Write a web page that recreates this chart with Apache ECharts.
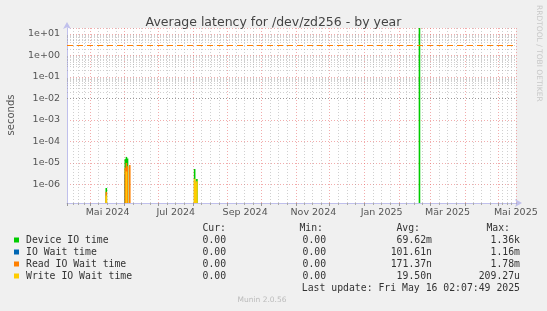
<!DOCTYPE html>
<html><head><meta charset="utf-8">
<script src="https://cdn.jsdelivr.net/npm/echarts@6/dist/echarts.min.js"></script>
<style>html,body{margin:0;padding:0;background:#f0f0f0;}#c{width:547px;height:311px;}</style>
</head><body><div id="c"></div>
<script>
// ---- data ----
const chartTitle = 'Average latency for /dev/zd256 - by year';
const yAxisName = 'seconds';
const monthNames = ['Jan','Feb','Mär','Apr','Mai','Jun','Jul','Aug','Sep','Okt','Nov','Dez'];
const timeStart = '2024-04-11T02:07:49Z';
const timeEnd = '2025-05-16T02:07:49Z';
const yMin = 1.36e-7;
const yMax = 19;
const hruleValue = 3;

const seriesNames = ['Device IO time', 'IO Wait time', 'Read IO Wait time', 'Write IO Wait time'];
const seriesColors = ['#00CC00', '#0066B3', '#FF8000', '#FFCC00'];

const deviceIO = [
  ['2024-05-15', 6.8e-7],
  ['2024-06-01', 1.5e-5],
  ['2024-06-02', 1.9e-5],
  ['2024-06-03', 1.6e-5],
  ['2024-08-02', 5.2e-6],
  ['2024-08-04', 1.8e-6],
  ['2025-02-19', 1360]
];
const ioWait = [
  ['2024-06-01', 3e-6],
  ['2024-06-02', 4e-6]
];
const readIOWait = [
  ['2024-05-15', 4.5e-7],
  ['2024-06-01', 6e-6],
  ['2024-06-02', 1e-5],
  ['2024-06-03', 7e-6],
  ['2024-06-05', 8e-6],
  ['2024-08-02', 1.5e-6]
];
const writeIOWait = [
  ['2024-05-15', 3e-7],
  ['2024-06-02', 4e-6],
  ['2024-08-02', 1.8e-6],
  ['2024-08-03', 1.2e-6],
  ['2024-08-04', 1.4e-6]
];

const curValues = ['0.00 ', '0.00 ', '0.00 ', '0.00 '];
const minValues = ['0.00 ', '0.00 ', '0.00 ', '0.00 '];
const avgValues = ['69.62m', '101.61n', '171.37n', '19.50n'];
const maxValues = ['1.36k', '1.16m', '1.78m', '209.27u'];
const legendHeaders = ['Cur:', 'Min:', 'Avg:', 'Max:'];
const lastUpdate = 'Last update: Fri May 16 02:07:49 2025';
const footerText = 'Munin 2.0.56';
const watermarkText = 'RRDTOOL / TOBI OETIKER';

// ---- build ----
const toTime = d => Date.parse(d + 'T12:00:00Z');
const allSeries = [deviceIO, ioWait, readIOWait, writeIOWait];

const minorY = [];
for (let e = -7; e <= 1; e++) {
  for (let m = 2; m <= 9; m++) {
    const v = m * Math.pow(10, e);
    if (v > yMin && v < yMax) minorY.push({ yAxis: v });
  }
}

const gridLeft = 67, gridTop = 28, gridW = 449, gridH = 175;
const monoFont = '"DejaVu Sans Mono", monospace';
const sansFont = '"DejaVu Sans", sans-serif';
const legendFont = '9.8px ' + monoFont;

const series = allSeries.map((arr, i) => ({
  name: seriesNames[i],
  type: 'bar',
  barWidth: 1.6,
  barGap: '-100%',
  itemStyle: { color: seriesColors[i] },
  data: arr.map(p => [toTime(p[0]), p[1]]),
  z: 3,
  animation: false
}));
series[0].markLine = {
  silent: true, symbol: 'none', z: 1, animation: false,
  label: { show: false },
  lineStyle: { color: 'rgba(150,150,150,0.45)', type: [1, 2], width: 1 },
  data: minorY
};
series[2].markLine = {
  silent: true, symbol: 'none', animation: false,
  label: { show: false },
  lineStyle: { color: '#FF8000', type: [6, 4], width: 1 },
  data: [{ yAxis: hruleValue }]
};

const x0 = 26;
const legendRowsY = [240, 252, 264, 276];
const valueEnds = [232, 332, 432, 520];
const headerEnds = [226, 323, 420, 510];
const graphics = [];
legendHeaders.forEach((h, j) => {
  graphics.push({ type: 'text', x: headerEnds[j], y: 228, style: { text: h, font: legendFont, fill: '#333', textAlign: 'right', textVerticalAlign: 'middle' } });
});
seriesNames.forEach((n, i) => {
  const y = legendRowsY[i];
  graphics.push({ type: 'rect', shape: { x: 14, y: y - 2.5, width: 5, height: 5 }, style: { fill: seriesColors[i] } });
  graphics.push({ type: 'text', x: x0, y: y, style: { text: n, font: legendFont, fill: '#333', textVerticalAlign: 'middle' } });
  [curValues[i], minValues[i], avgValues[i], maxValues[i]].forEach((v, j) => {
    graphics.push({ type: 'text', x: valueEnds[j], y: y, style: { text: v, font: legendFont, fill: '#333', textAlign: 'right', textVerticalAlign: 'middle' } });
  });
});
graphics.push({ type: 'text', x: 520, y: 288, style: { text: lastUpdate, font: legendFont, fill: '#333', textAlign: 'right', textVerticalAlign: 'middle' } });
graphics.push({ type: 'text', x: 262, y: 300, style: { text: footerText, font: '7.5px ' + sansFont, fill: '#bbb', textAlign: 'center', textVerticalAlign: 'middle' } });
graphics.push({ type: 'text', x: 539, y: 5, rotation: -Math.PI / 2, style: { text: watermarkText, font: '7.5px ' + sansFont, fill: '#c8c8c8', textAlign: 'left', textVerticalAlign: 'middle' } });
graphics.push({ type: 'text', x: 11, y: 115, rotation: Math.PI / 2, style: { text: yAxisName, font: '10px ' + sansFont, fill: '#555', textAlign: 'center', textVerticalAlign: 'middle' } });

function logLabel(v) {
  const l = Math.log10(v);
  const e = Math.round(l);
  if (Math.abs(l - e) > 1e-6) return '';
  const a = Math.abs(e);
  return '1e' + (e < 0 ? '-' : '+') + (a < 10 ? '0' : '') + a;
}

const option = {
  useUTC: true,
  animation: false,
  backgroundColor: '#f0f0f0',
  title: {
    text: chartTitle, left: 'center', top: 11,
    textStyle: { fontFamily: sansFont, fontSize: 12.5, fontWeight: 'normal', color: '#444' }
  },
  grid: { left: gridLeft, top: gridTop, width: gridW, height: gridH, show: true, backgroundColor: '#ffffff', borderWidth: 0 },
  xAxis: {
    type: 'time',
    min: Date.parse(timeStart), max: Date.parse(timeEnd),
    splitNumber: 13,
    minInterval: 28 * 86400000, maxInterval: 31 * 86400000,
    axisLine: { show: true, lineStyle: { color: '#c0c0ec', width: 1 }, symbol: ['none', 'arrow'], symbolSize: [6, 7], symbolOffset: [0, 6] },
    axisTick: { show: true, length: 3, lineStyle: { color: '#999' } },
    minorTick: { show: true, splitNumber: 4, length: 2, lineStyle: { color: '#aaa' } },
    splitLine: { show: true, lineStyle: { color: 'rgba(230,90,90,0.5)', type: [1, 2] } },
    minorSplitLine: { show: true, lineStyle: { color: 'rgba(150,150,150,0.45)', type: [1, 2] } },
    axisLabel: {
      fontFamily: sansFont, fontSize: 9.5, color: '#555', margin: 5,
      hideOverlap: false, showMinLabel: false, showMaxLabel: false,
      padding: [0, 0, 0, 35],
      formatter: function (val) {
        const d = new Date(val);
        if (d.getUTCDate() !== 1 || d.getUTCHours() !== 0) return '';
        const m = d.getUTCMonth();
        if (m % 2 !== 0) return '';
        return monthNames[m] + ' ' + d.getUTCFullYear();
      }
    }
  },
  yAxis: {
    type: 'log', logBase: 10,
    min: yMin, max: yMax, startValue: yMin,
    splitNumber: 8,
    axisLine: { show: true, lineStyle: { color: '#c0c0ec', width: 1 }, symbol: ['none', 'arrow'], symbolSize: [6, 7], symbolOffset: [0, 6] },
    axisTick: { show: false },
    splitLine: { show: true, lineStyle: { color: 'rgba(230,90,90,0.5)', type: [1, 2] } },
    axisLabel: { fontFamily: sansFont, fontSize: 9.5, color: '#555', margin: 7, showMinLabel: false, showMaxLabel: false, formatter: logLabel }
  },
  series: series,
  graphic: graphics
};

const chart = echarts.init(document.getElementById('c'), null, { renderer: 'canvas' });
chart.setOption(option);
</script>
</body></html>
